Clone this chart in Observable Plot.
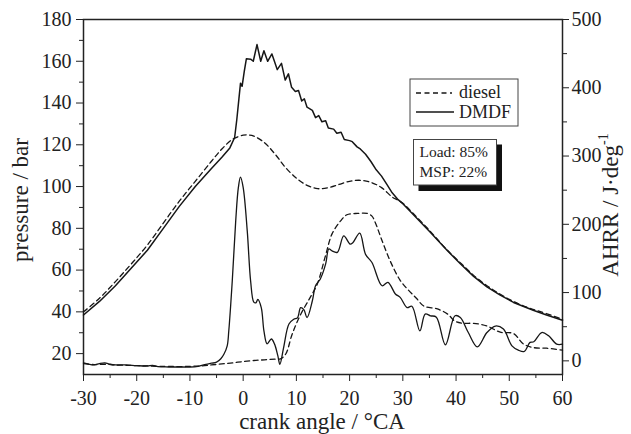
<!DOCTYPE html>
<html><head><meta charset="utf-8">
<script src="https://cdn.jsdelivr.net/npm/d3@7"></script>
<script src="https://cdn.jsdelivr.net/npm/@observablehq/plot@0.6"></script>
<style>body{margin:0;background:#fff}</style>
</head><body><div id="chart"></div>
<script>
// crank angle (°CA), pressure (bar)
const pressureDiesel = [[-30,40],[-27,46.5],[-24,54.5],[-21,63],[-18,72],[-15,82.5],[-12,93],[-9,102.5],[-6,112],[-4,118],[-2,122.6],[0,124.6],[1,124.7],[2,124.2],[4,121],[6,115.5],[8,109],[10,104],[12,100.6],[14,99],[16,99.5],[18,101],[20,102.5],[22,103],[24,102],[26,99.5],[28,95],[29,93.6],[30,92],[32,87],[35,79],[38,70.5],[41,63],[44,56],[47,50.5],[50,46],[53,42.5],[56,40],[60,36.5]];
const pressureDMDF = [[-30,38.5],[-27,45],[-24,52.5],[-21,61],[-18,69.5],[-15,80],[-12,90.5],[-9,100],[-6,108.5],[-4,114],[-2.5,118.5],[-1.6,123.5],[-1.2,132],[-0.8,142],[-0.5,149.5],[-0.2,148],[0.2,155],[0.6,161.2],[1.4,161],[1.9,160],[2.6,168],[3.3,160],[3.9,165],[4.6,160],[5.4,163.5],[6.0,159],[6.4,156],[7.2,159],[7.9,151],[8.5,154],[9.1,147.5],[9.8,145.5],[10.4,146],[11,141],[11.5,142],[12,138],[13,136.5],[13.6,133],[14.2,134],[14.8,131],[15.5,131.5],[16,128],[17,127.5],[17.6,125.5],[18.4,126],[19,122.5],[20,122],[20.5,121.5],[21.4,119],[22,118],[23,115.5],[24,112],[25,108],[26,105],[27,101],[28,97],[29,94],[30,91.8],[32,86.5],[35.2,78],[38.3,69.5],[40.8,63],[43.3,57],[45.8,52],[48.3,48],[50.8,44.5],[54.5,40.8],[57,38.5],[60,36]];
// crank angle (°CA), AHRR (J/deg)
const ahrrDiesel = [[-30,-4],[-28,-5.5],[-26,-5],[-24,-6],[-22,-6.5],[-20,-7],[-18,-7.5],[-16,-8],[-14,-8],[-12,-8.5],[-10,-8],[-8,-7.5],[-6,-6],[-4,-4.5],[-2,-3],[0,-1],[2,0.5],[4,1.5],[6,2.5],[7,3],[8,10],[9.2,39],[10.8,68],[12.6,93],[13.9,112],[15.5,155],[16.7,186],[18.3,205],[19.5,214],[21.5,216],[23.3,216],[24.2,212],[24.8,203],[26.1,176],[27.7,145],[29.5,118],[31,104],[32.5,92],[34,80],[36.5,76],[38.5,68],[39.8,58],[41.4,55],[43.3,55],[45.8,51],[48.3,42],[50.8,40],[52.6,25],[54.5,19.5],[57,18.5],[60,15.7]];
const ahrrDMDF = [[-30,-3],[-29,-5],[-28,-6],[-27,-4],[-26,-3],[-25,-5],[-24,-6],[-22,-6],[-20,-7],[-18,-7.5],[-17,-6.5],[-16,-8.5],[-14,-9],[-12,-9],[-10,-9],[-8.5,-8],[-7,-5],[-6,-3.5],[-5,-2],[-4.2,3],[-3.6,10],[-3,22],[-2.7,44],[-2.05,117],[-1.4,205],[-0.9,254],[-0.5,269],[0,254],[0.77,190],[1.4,117],[2.0,86],[2.4,85],[2.75,90],[3.4,78],[3.9,44],[4.5,25],[5.3,32],[5.9,24.5],[6.5,8],[6.9,-5],[7.6,19.5],[8.6,54],[9.5,61],[10.2,63],[10.8,78],[11.4,75],[12,63.5],[13,88],[13.6,110],[14.5,120],[15.5,142],[16.1,164],[16.7,161],[17.7,159],[18.9,183],[20.1,171],[20.6,173],[21.9,187],[23,156],[24.2,144],[26.1,110],[27.2,115],[28.6,98],[29.5,93],[30.8,78],[31.7,80],[33.2,44],[34.2,68.5],[35.2,66],[36.3,64],[38,23.5],[39.8,66],[40.8,63.5],[42.3,41.5],[44,20.5],[45.8,41.5],[47.4,51],[48.9,46.5],[50.5,22],[51.7,15.7],[52.8,13.7],[53.9,27],[54.6,28],[56.1,41.5],[57.4,36.7],[58.9,24.5],[60,24.5]];

const xTicks = [-30,-20,-10,0,10,20,30,40,50,60];
const xMinor = [-25,-15,-5,5,15,25,35,45,55];
const leftTicks = [20,40,60,80,100,120,140,160,180];
const leftMinor = [30,50,70,90,110,130,150,170];
const rightTicks = [0,100,200,300,400,500];
const rightMinor = [50,150,250,350,450];
const legendLabels = ["diesel","DMDF"];
const infoLines = ["Load: 85%","MSP: 22%"];
const xTitle = "crank angle / °CA";
const leftTitle = "pressure / bar";
const rightTitle = "AHRR / J·deg";
const rightTitleSup = "-1";

// right axis (AHRR) domain mapped onto left axis (pressure) domain
const L0 = 10, L1 = 180, R0 = -20, R1 = 500;
const toLeft = a => L0 + (a - R0) * (L1 - L0) / (R1 - R0);
const fromLeft = p => R0 + (p - L0) * (R1 - R0) / (L1 - L0);

const rows = (arr, f = v => v) => arr.map(([x, v]) => ({x, y: f(v)}));
const ink = "#161616";
const serif = "'Liberation Serif', 'Times New Roman', serif";
const plain = d => String(d);

const svg = Plot.plot({
  width: 631, height: 434,
  marginTop: 19, marginBottom: 60, marginLeft: 83, marginRight: 69,
  style: {fontFamily: serif, fontSize: "20px", color: "#222", background: "#fff"},
  x: {domain: [-30, 60]},
  y: {domain: [L0, L1]},
  marks: [
    Plot.axisX(xTicks, {tickSize: 7, tickPadding: 9, tickFormat: plain, label: null}),
    Plot.axisX(xMinor, {tickSize: 4, tickFormat: () => "", label: null}),
    Plot.axisY(leftTicks, {anchor: "left", tickSize: 7, tickPadding: 5, tickFormat: plain, label: null}),
    Plot.axisY(leftMinor, {anchor: "left", tickSize: 4, tickFormat: () => "", label: null}),
    Plot.axisY(rightTicks.map(toLeft), {anchor: "right", tickSize: 6, tickPadding: 3, tickFormat: v => String(Math.round(fromLeft(v))), label: null}),
    Plot.axisY(rightMinor.map(toLeft), {anchor: "right", tickSize: 4, tickFormat: () => "", label: null}),
    Plot.frame({stroke: "#222", strokeWidth: 1.5}),
    Plot.line(rows(pressureDiesel), {x: "x", y: "y", stroke: ink, strokeWidth: 1.3, strokeDasharray: "5,3.5", curve: "catmull-rom"}),
    Plot.line(rows(pressureDMDF), {x: "x", y: "y", stroke: ink, strokeWidth: 1.5, curve: "linear"}),
    Plot.line(rows(ahrrDiesel, toLeft), {x: "x", y: "y", stroke: ink, strokeWidth: 1.3, strokeDasharray: "5,3.5", curve: "catmull-rom"}),
    Plot.line(rows(ahrrDMDF, toLeft), {x: "x", y: "y", stroke: ink, strokeWidth: 1.3, curve: "catmull-rom"})
  ]
});

const s = d3.select(svg);
const tf = {"font-family": serif, "fill": "#222", "text-anchor": "start"};
function txt(g, attrs, t) { const e = g.append("text").text(t); for (const k in attrs) e.attr(k, attrs[k]); return e; }

// axis titles
txt(s, {...tf, x: 322, y: 429, "text-anchor": "middle", "font-size": 23}, xTitle);
txt(s, {...tf, transform: "translate(28,200) rotate(-90)", "text-anchor": "middle", "font-size": 23}, leftTitle);
const rt = s.append("text").attr("font-family", serif).attr("fill", "#222").attr("font-size", 23)
  .attr("text-anchor", "middle").attr("transform", "translate(618,205) rotate(-90)");
rt.append("tspan").text(rightTitle);
rt.append("tspan").attr("font-size", 14).attr("dy", -10).text(rightTitleSup);

// legend
const lg = s.append("g");
lg.append("rect").attr("x", 410).attr("y", 79).attr("width", 108).attr("height", 47)
  .attr("fill", "#fff").attr("stroke", "#444").attr("stroke-width", 1);
lg.append("line").attr("x1", 416).attr("x2", 452).attr("y1", 93).attr("y2", 93)
  .attr("stroke", ink).attr("stroke-width", 1.3).attr("stroke-dasharray", "5,3.5");
lg.append("line").attr("x1", 416).attr("x2", 454).attr("y1", 112).attr("y2", 112)
  .attr("stroke", ink).attr("stroke-width", 1.3);
txt(lg, {...tf, x: 459, y: 97.5, "font-size": 18}, legendLabels[0]);
txt(lg, {...tf, x: 459, y: 117.5, "font-size": 18}, legendLabels[1]);

// info box with shadow
const ib = s.append("g");
ib.append("rect").attr("x", 418.5).attr("y", 144.5).attr("width", 83.5).attr("height", 46.5).attr("fill", "#111");
ib.append("rect").attr("x", 413.5).attr("y", 139.5).attr("width", 83).attr("height", 45.5)
  .attr("fill", "#fff").attr("stroke", "#444").attr("stroke-width", 1);
txt(ib, {...tf, x: 419.5, y: 157, "font-size": 15.5}, infoLines[0]);
txt(ib, {...tf, x: 419.5, y: 177, "font-size": 15.5}, infoLines[1]);

document.getElementById("chart").appendChild(svg);
</script>
</body></html>
